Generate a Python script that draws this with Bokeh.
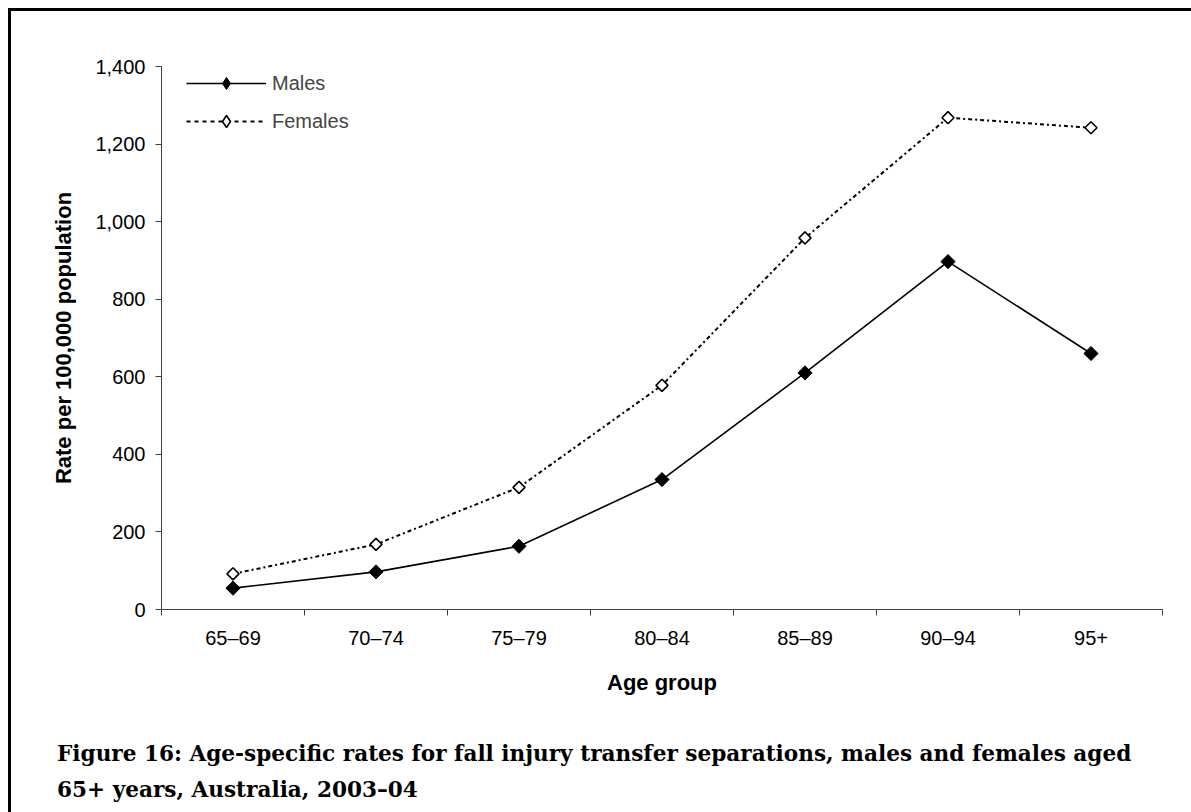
import numpy as np
from bokeh.plotting import figure
from bokeh.layouts import column
from bokeh.models import (Range1d, FixedTicker, NumeralTickFormatter, Legend, LegendItem, Div)
from bokeh.embed import file_html
from bokeh.resources import INLINE

age_groups = ["65–69", "70–74", "75–79", "80–84", "85–89", "90–94", "95+"]
males = [55, 97, 163, 335, 610, 897, 660]
females = [92, 168, 315, 578, 958, 1268, 1242]
y_ticks = [0, 200, 400, 600, 800, 1000, 1200, 1400]
caption_lines = [
    "Figure 16: Age-specific rates for fall injury transfer separations, males and females aged",
    "65+ years, Australia, 2003–04",
]

xpos = [i + 0.5 for i in range(len(age_groups))]
bounds = list(range(len(age_groups) + 1))

p = figure(width=1180, height=720, output_backend="svg", toolbar_location=None,
           x_range=Range1d(0, len(age_groups)), y_range=Range1d(0, 1400),
           min_border_left=150, min_border_top=55, min_border_right=29, min_border_bottom=122)
p.outline_line_color = None
p.grid.visible = False

axis_color = "#404040"
for ax in (p.xaxis[0], p.yaxis[0]):
    ax.axis_line_color = axis_color
    ax.major_tick_line_color = axis_color
    ax.minor_tick_line_color = axis_color
    ax.major_label_text_font = "Liberation Sans"
    ax.major_label_text_font_size = "20px"
    ax.major_label_text_color = "black"
    ax.axis_label_text_font = "Liberation Sans"
    ax.axis_label_text_font_size = "22px"
    ax.axis_label_text_font_style = "bold"
    ax.axis_label_text_color = "black"

p.xaxis.ticker = FixedTicker(ticks=xpos, minor_ticks=bounds)
p.xaxis.major_label_overrides = {x: lab for x, lab in zip(xpos, age_groups)}
p.xaxis.major_tick_out = 0
p.xaxis.major_tick_in = 0
p.xaxis.minor_tick_out = 6
p.xaxis.minor_tick_in = 0
p.xaxis.major_label_standoff = 11
p.xaxis.axis_label = "Age group"
p.xaxis.axis_label_standoff = 18

p.yaxis.ticker = FixedTicker(ticks=y_ticks, minor_ticks=[])
p.yaxis.formatter = NumeralTickFormatter(format="0,0")
p.yaxis.major_tick_out = 6
p.yaxis.major_tick_in = 0
p.yaxis.major_label_standoff = 10
p.yaxis.axis_label = "Rate per 100,000 population"
p.yaxis.axis_label_standoff = 16

fl = p.line(xpos, females, line_color="black", line_width=2, line_dash="4 3 2 3")
fm = p.scatter(xpos, females, marker="square", size=8.5, angle=np.pi / 4,
               fill_color="white", line_color="black", line_width=1.6)
ml = p.line(xpos, males, line_color="black", line_width=1.6)
mm = p.scatter(xpos, males, marker="square", size=10, angle=np.pi / 4,
               fill_color="black", line_color="black")

# legend-only proxies (no data drawn in the plot area)
nan = [np.nan]
lg_ml = p.line(nan, nan, line_color="black", line_width=1.6)
lg_mm = p.scatter(nan, nan, marker="diamond", fill_color="black", line_color="black")
lg_fl = p.line(nan, nan, line_color="black", line_width=1.8, line_dash="4 4")
lg_fm = p.scatter(nan, nan, marker="diamond", fill_color="white", line_color="black",
                  line_width=1.6)

legend = Legend(items=[LegendItem(label="Males", renderers=[lg_ml, lg_mm]),
                       LegendItem(label="Females", renderers=[lg_fl, lg_fm])],
                location=(25, 473), margin=0, padding=0, spacing=8,
                glyph_width=80, glyph_height=30, label_height=30, label_standoff=6,
                label_text_font="Liberation Sans", label_text_font_size="20px",
                background_fill_alpha=0, border_line_color=None)
p.add_layout(legend)

caption_html = (
    '<div style="font-family: \'DejaVu Serif\'; font-weight: bold; font-size: 21.6px; '
    'line-height: 36px; color: black; padding-left: 41px; white-space: nowrap;">'
    + "<br>".join(caption_lines) + "</div>"
)
caption = Div(text=caption_html, width=1180, height=72)

page = column(p, caption, spacing=0,
              styles={"margin-left": "8px", "margin-top": "8px",
                      "border-top": "3px solid black", "border-left": "3px solid black"})

open("out.html", "w").write(file_html(page, INLINE))
